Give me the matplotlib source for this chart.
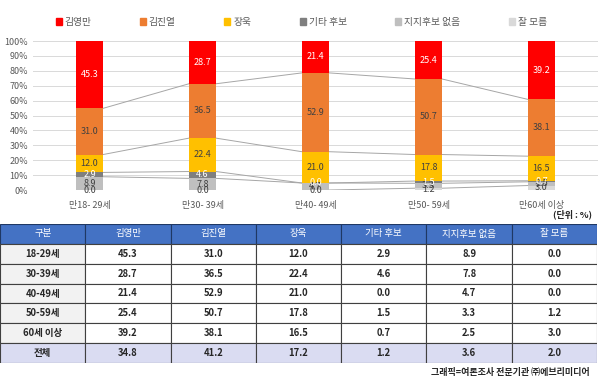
import numpy as np
import matplotlib
matplotlib.use('Agg')
import matplotlib.pyplot as plt
from matplotlib.patches import Rectangle, Patch

plt.rcParams['font.family'] = ['Noto Sans CJK KR', 'DejaVu Sans']

# data
groups = ['만18- 29세', '만30- 39세', '만40- 49세', '만50- 59세', '만60세 이상']
rows = ['18-29세', '30-39세', '40-49세', '50-59세', '60세 이상']
series = ['김영만', '김진열', '장욱', '기타 후보', '지지후보 없음', '잘 모름']
kim_ym = [45.3, 28.7, 21.4, 25.4, 39.2]
kim_jy = [31.0, 36.5, 52.9, 50.7, 38.1]
jang = [12.0, 22.4, 21.0, 17.8, 16.5]
etc = [2.9, 4.6, 0.0, 1.5, 0.7]
none_ = [8.9, 7.8, 4.7, 3.3, 2.5]
dunno = [0.0, 0.0, 0.0, 1.2, 3.0]
total = [34.8, 41.2, 17.2, 1.2, 3.6, 2.0]

colors = ['#FF0000', '#ED7D31', '#FFC000', '#7F7F7F', '#BFBFBF', '#D9D9D9']
label_colors = ['white', '#404040', '#404040', 'white', '#404040', '#404040']

values = [kim_ym, kim_jy, jang, etc, none_, dunno]

fig = plt.figure(figsize=(6, 3.84), dpi=100)

### --- stacked bar --- ###
ax = fig.add_axes([33/600, 1-190/384, 565/600, 149/384])
x = np.arange(len(groups))
w = 0.24

# stack from bottom: 잘 모름 -> 김영만
order = list(range(len(series)))[::-1]
bottom = np.zeros(len(groups))
tops = []
for i in order:
    v = np.array(values[i])
    ax.bar(x, v, w, bottom=bottom, color=colors[i], zorder=3)
    for xi, b, h in zip(x, bottom, v):
        ax.text(xi, b + h/2, f'{h:.1f}', ha='center', va='center',
                fontsize=6.5, color=label_colors[i], zorder=5)
    bottom = bottom + v
    tops.append(bottom.copy())

# series lines
for t in tops[:-1]:
    for k in range(len(groups)-1):
        ax.plot([x[k]+w/2, x[k+1]-w/2], [t[k], t[k+1]], color='#A6A6A6',
                lw=0.7, zorder=2)

ax.set_xlim(-0.5, len(groups)-0.5)
ax.set_ylim(0, 100)
ax.set_yticks(range(0, 101, 10))
ax.set_yticklabels([f'{v}%' for v in range(0, 101, 10)])
ax.set_xticks(x)
ax.set_xticklabels(groups)
ax.tick_params(length=0, labelsize=6.5, colors='#595959')
ax.tick_params(axis='x', pad=8)
ax.grid(axis='y', color='#D9D9D9', lw=0.7, zorder=0)
for s in ax.spines.values():
    s.set_visible(False)

handles = [Patch(color=c) for c in colors]
fig.legend(handles, series, loc='center', bbox_to_anchor=(0.502, 1-22/384),
           ncol=6, frameon=False, fontsize=7, handlelength=0.6,
           handleheight=0.6, handletextpad=0.3, columnspacing=5.0,
           labelcolor='#595959')

fig.text(592/600, 1-214/384, '(단위 : %)', ha='right', va='center',
         fontsize=6.5, fontweight='bold', color='#262626')

### --- table --- ###
tax = fig.add_axes([0, 1-363/384, 597/600, 139/384])
ncol = len(series) + 1
nrow = len(rows) + 2
tax.set_xlim(0, ncol)
tax.set_ylim(nrow, 0)
tax.axis('off')

header = ['구분'] + series
body = [[r] + [f'{values[j][i]:.1f}' for j in range(len(series))] for i, r in enumerate(rows)]
body.append(['전체'] + [f'{v:.1f}' for v in total])

for c, txt in enumerate(header):
    tax.add_patch(Rectangle((c, 0), 1, 1, facecolor='#4472C4', edgecolor='#1F3864', lw=0.8))
    tax.text(c+0.5, 0.5, txt, ha='center', va='center', color='white', fontsize=6.8)
for r, row in enumerate(body):
    last = r == len(body)-1
    for c, txt in enumerate(row):
        if last:
            fc = '#DADCF2'
        elif c == 0:
            fc = '#F2F2F2'
        else:
            fc = 'white'
        tax.add_patch(Rectangle((c, r+1), 1, 1, facecolor=fc, edgecolor='#404040', lw=0.8))
        tax.text(c+0.5, r+1.5, txt, ha='center', va='center', color='#262626',
                 fontsize=6.8, fontweight='bold')

fig.text(590/600, 1-373/384, '그래픽=여론조사 전문기관 ㈜에브리미디어', ha='right',
         va='center', fontsize=6.5, fontweight='bold', color='#262626')

fig.savefig('out.png', dpi=100)
